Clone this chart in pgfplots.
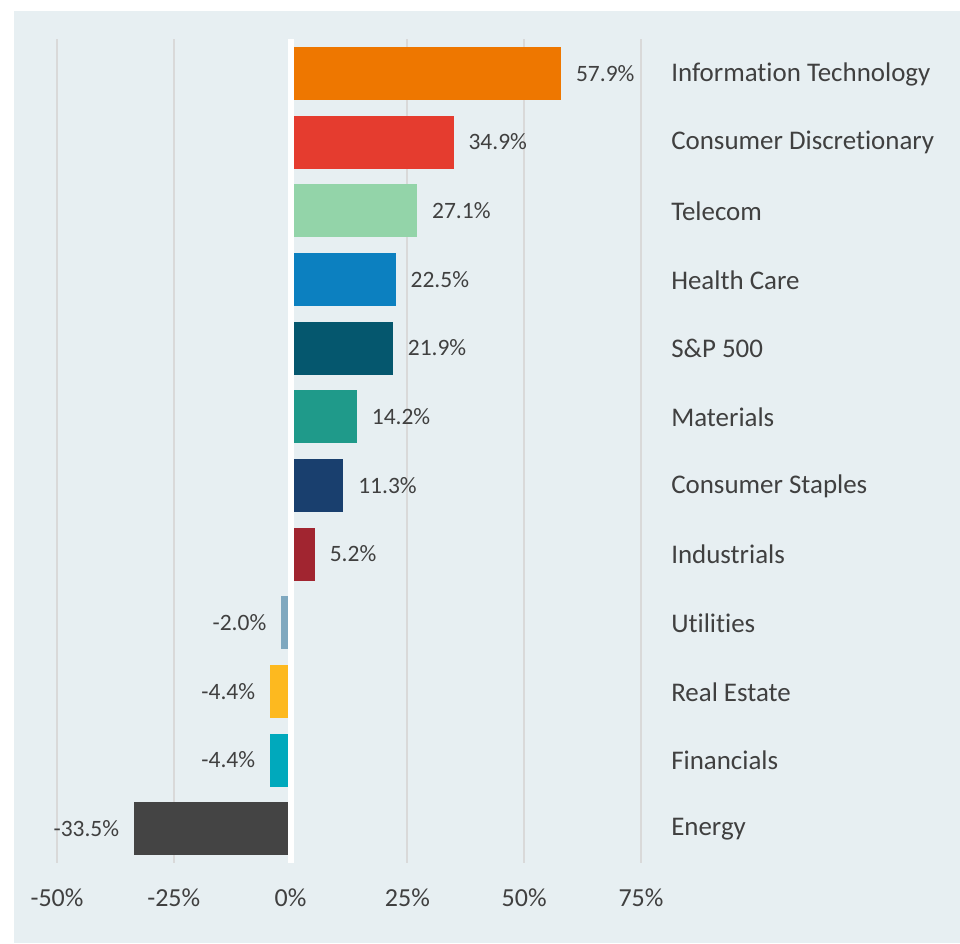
\documentclass[border=0pt]{standalone}
\usepackage{fontspec}
\setmainfont{Carlito}[Ligatures={NoCommon}]
\usepackage{pgfplots}
\pgfplotsset{compat=1.18}
\definecolor{bg}{HTML}{E7EFF2}
\definecolor{gridgray}{HTML}{D9D9D9}
\definecolor{txt}{HTML}{404040}
\definecolor{cIT}{HTML}{EE7700}
\definecolor{cCD}{HTML}{E53C2F}
\definecolor{cTel}{HTML}{93D4A9}
\definecolor{cHC}{HTML}{0C80C0}
\definecolor{cSP}{HTML}{05576E}
\definecolor{cMat}{HTML}{1F9A8A}
\definecolor{cCS}{HTML}{193F6E}
\definecolor{cInd}{HTML}{A12530}
\definecolor{cUt}{HTML}{7FA8BF}
\definecolor{cRE}{HTML}{FDB91F}
\definecolor{cFin}{HTML}{00A9BC}
\definecolor{cEn}{HTML}{444444}
\begin{document}
\begin{tikzpicture}
\fill[white] (0,0) rectangle (720pt,707.25pt);
\fill[bg] (10.5pt,0) rectangle (720pt,699pt);
\begin{axis}[
  at={(42.75pt,60pt)}, anchor=south west,
  scale only axis, width=438pt, height=618pt,
  xmin=-50, xmax=75, ymin=-0.5, ymax=11.5, y dir=reverse,
  axis line style={draw=none}, major tick length=0pt,
  xtick={-50,-25,0,25,50,75},
  xticklabels={-50\%,-25\%,0\%,25\%,50\%,75\%},
  xmajorgrids, grid style={draw=gridgray, line width=1.5pt},
  ytick={0,...,11},
  yticklabels={Information Technology, Consumer Discretionary, Telecom, Health Care, S\&P 500, Materials, Consumer Staples, Industrials, Utilities, Real Estate, Financials, Energy},
  yticklabel pos=right,
  xticklabel style={font=\fontsize{19.5}{23}\selectfont, text=txt, inner sep=0pt, anchor=north, yshift=-18.75pt},
  yticklabel style={font=\fontsize{20.2}{24}\selectfont, text=txt, inner sep=0pt, anchor=west, xshift=22.5pt, yshift=-0.5pt},
  xbar, bar width=39.75pt, bar shift=0pt,
  point meta=x,
  nodes near coords={\pgfmathprintnumber{\pgfplotspointmeta}\%},
  nodes near coords align=horizontal,
  every node near coord/.append style={font=\fontsize{17.6}{21}\selectfont, text=txt, inner xsep=11pt, inner ysep=0pt},
  /pgf/number format/.cd, fixed, fixed zerofill, precision=1, assume math mode=true,
]
\addplot[fill=cIT, draw=none] coordinates {(57.9,0)};
\addplot[fill=cCD, draw=none] coordinates {(34.9,1)};
\addplot[fill=cTel, draw=none] coordinates {(27.1,2)};
\addplot[fill=cHC, draw=none] coordinates {(22.5,3)};
\addplot[fill=cSP, draw=none] coordinates {(21.9,4)};
\addplot[fill=cMat, draw=none] coordinates {(14.2,5)};
\addplot[fill=cCS, draw=none] coordinates {(11.3,6)};
\addplot[fill=cInd, draw=none] coordinates {(5.2,7)};
\addplot[fill=cUt, draw=none] coordinates {(-2.0,8)};
\addplot[fill=cRE, draw=none] coordinates {(-4.4,9)};
\addplot[fill=cFin, draw=none] coordinates {(-4.4,10)};
\addplot[fill=cEn, draw=none] coordinates {(-33.5,11)};
\draw[white, line width=4.5pt] (axis cs:0,-0.5) -- (axis cs:0,11.5);
\end{axis}
\end{tikzpicture}
\end{document}
